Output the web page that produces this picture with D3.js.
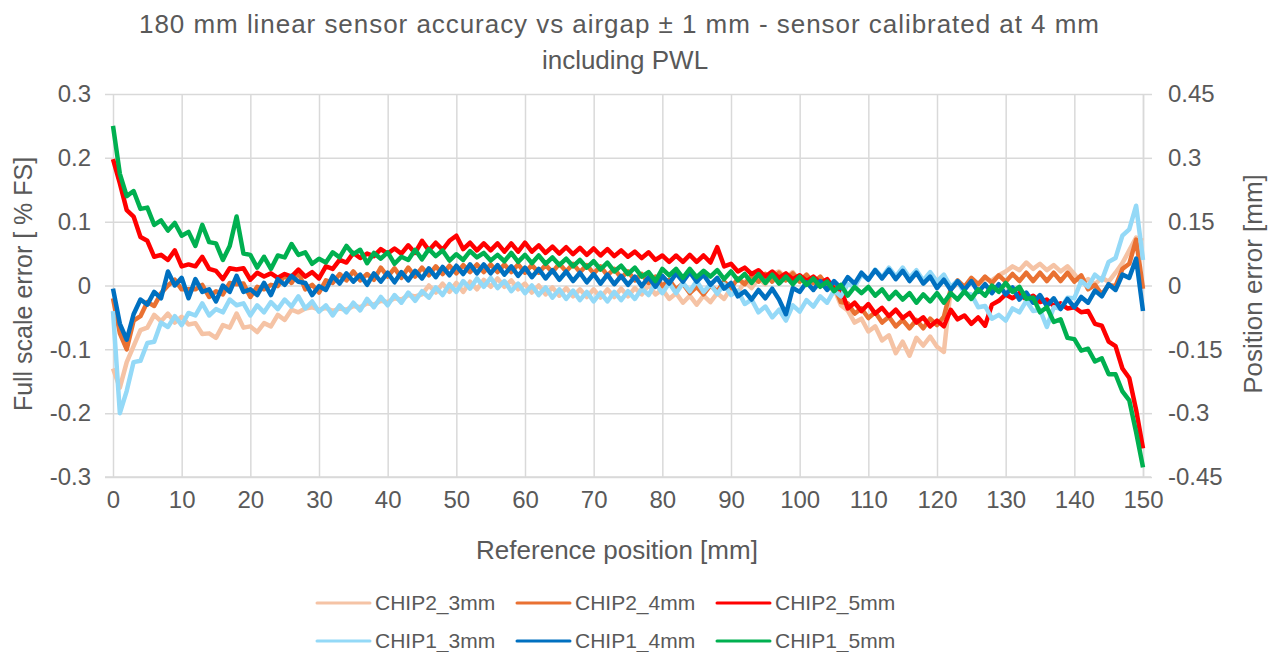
<!DOCTYPE html>
<html>
<head>
<meta charset="utf-8">
<script src="https://cdn.jsdelivr.net/npm/d3@7"></script>
<style>
  body { margin: 0; background: #fff; }
  text { font-family: "Liberation Sans", Arial, sans-serif; fill: #595959; }
</style>
</head>
<body>
<div id="container"></div>
<script>
// reference position in mm, one reading per mm
const positions = d3.range(0, 151);

// full scale error [% FS]
const chip2_3mm = [
  -0.130, -0.160, -0.120, -0.095, -0.070, -0.066, -0.046, -0.056, -0.044, -0.058,
  -0.049, -0.061, -0.059, -0.076, -0.075, -0.082, -0.062, -0.066, -0.044, -0.066,
  -0.064, -0.073, -0.059, -0.064, -0.046, -0.054, -0.038, -0.042, -0.036, -0.034,
  -0.038, -0.035, -0.040, -0.036, -0.038, -0.032, -0.034, -0.028, -0.030, -0.024,
  -0.026, -0.020, -0.022, -0.015, -0.017, -0.014, 0.000, -0.011, 0.003, -0.010,
  0.004, -0.010, 0.006, -0.006, 0.009, -0.002, 0.011, -0.002, 0.008, -0.006,
  0.003, -0.011, 0.000, -0.014, -0.003, -0.016, -0.004, -0.017, -0.006, -0.018,
  -0.006, -0.019, -0.006, -0.018, -0.005, -0.017, -0.004, -0.014, 0.001, -0.014,
  -0.006, -0.021, -0.012, -0.027, -0.016, -0.030, -0.016, -0.026, -0.012, -0.021,
  -0.004, -0.011, 0.006, -0.004, 0.011, 0.002, 0.018, 0.022, 0.012, 0.021,
  0.006, 0.016, 0.002, 0.011, -0.006, -0.004, -0.031, -0.039, -0.058, -0.052,
  -0.072, -0.064, -0.086, -0.078, -0.106, -0.088, -0.110, -0.082, -0.094, -0.080,
  -0.096, -0.104, -0.005, 0.003, -0.003, 0.006, 0.002, 0.010, 0.008, 0.016,
  0.022, 0.030, 0.024, 0.036, 0.026, 0.034, 0.024, 0.032, 0.022, 0.030,
  0.018, 0.004, 0.010, 0.002, 0.012, 0.006, 0.020, 0.035, 0.055, 0.075,
  0.070
];
const chip2_4mm = [
  -0.020, -0.075, -0.100, -0.055, -0.048, -0.026, -0.032, -0.012, 0.000, 0.009,
  -0.006, -0.006, -0.006, 0.001, -0.018, -0.009, -0.014, 0.004, 0.002, 0.003,
  -0.018, -0.002, -0.006, 0.001, -0.001, 0.016, 0.004, 0.021, -0.006, 0.001,
  -0.011, 0.008, 0.004, 0.018, 0.008, 0.022, 0.008, 0.018, 0.009, 0.028,
  0.014, 0.027, 0.012, 0.028, 0.014, 0.028, 0.016, 0.030, 0.018, 0.031,
  0.019, 0.032, 0.021, 0.033, 0.021, 0.033, 0.021, 0.033, 0.021, 0.033,
  0.020, 0.032, 0.020, 0.032, 0.021, 0.034, 0.022, 0.034, 0.021, 0.032,
  0.019, 0.030, 0.016, 0.026, 0.012, 0.022, 0.008, 0.018, 0.004, 0.014,
  -0.001, 0.009, -0.006, 0.003, -0.012, -0.002, -0.014, 0.000, -0.009, 0.006,
  -0.004, 0.011, 0.002, 0.016, 0.006, 0.018, 0.006, 0.020, 0.008, 0.019,
  0.006, 0.017, 0.004, 0.014, -0.001, 0.001, -0.026, -0.028, -0.044, -0.036,
  -0.051, -0.042, -0.058, -0.049, -0.064, -0.054, -0.067, -0.054, -0.067, -0.052,
  -0.062, -0.049, -0.006, 0.008, -0.002, 0.012, 0.002, 0.014, 0.004, 0.016,
  0.006, 0.018, 0.007, 0.020, 0.007, 0.020, 0.007, 0.020, 0.007, 0.020,
  0.006, 0.016, -0.006, 0.001, -0.014, 0.001, -0.001, 0.026, 0.034, 0.072,
  -0.005
];
const chip2_5mm = [
  0.198, 0.160, 0.118, 0.108, 0.076, 0.070, 0.045, 0.048, 0.040, 0.055,
  0.030, 0.033, 0.030, 0.045, 0.026, 0.023, 0.010, 0.027, 0.025, 0.027,
  0.009, 0.020, 0.014, 0.019, 0.012, 0.018, 0.014, 0.025, 0.014, 0.021,
  0.011, 0.030, 0.026, 0.040, 0.036, 0.051, 0.043, 0.050, 0.046, 0.057,
  0.050, 0.058, 0.050, 0.063, 0.051, 0.070, 0.055, 0.067, 0.056, 0.070,
  0.078, 0.057, 0.067, 0.055, 0.066, 0.055, 0.066, 0.053, 0.066, 0.053,
  0.067, 0.053, 0.063, 0.051, 0.061, 0.050, 0.060, 0.049, 0.059, 0.048,
  0.058, 0.047, 0.057, 0.046, 0.055, 0.045, 0.053, 0.043, 0.052, 0.040,
  0.047, 0.037, 0.047, 0.037, 0.048, 0.037, 0.047, 0.036, 0.060, 0.030,
  0.034, 0.022, 0.028, 0.018, 0.024, 0.014, 0.022, 0.012, 0.019, 0.010,
  0.016, 0.007, 0.014, 0.004, 0.010, -0.005, -0.005, -0.036, -0.027, -0.040,
  -0.029, -0.044, -0.035, -0.048, -0.038, -0.051, -0.043, -0.058, -0.050, -0.064,
  -0.055, -0.064, -0.038, -0.053, -0.047, -0.060, -0.050, -0.063, -0.030, -0.024,
  -0.014, -0.020, -0.012, -0.022, -0.016, -0.026, -0.022, -0.032, -0.028, -0.036,
  -0.034, -0.042, -0.040, -0.060, -0.063, -0.088, -0.095, -0.130, -0.145, -0.195,
  -0.255
];
const chip1_3mm = [
  -0.040, -0.200, -0.165, -0.120, -0.118, -0.090, -0.088, -0.058, -0.065, -0.048,
  -0.062, -0.043, -0.047, -0.028, -0.047, -0.037, -0.042, -0.022, -0.031, -0.028,
  -0.047, -0.031, -0.042, -0.026, -0.037, -0.022, -0.033, -0.017, -0.036, -0.025,
  -0.041, -0.031, -0.047, -0.031, -0.042, -0.027, -0.039, -0.021, -0.034, -0.018,
  -0.031, -0.015, -0.027, -0.011, -0.024, -0.009, -0.019, -0.003, -0.015, 0.002,
  -0.010, 0.007, -0.005, 0.011, -0.002, 0.012, -0.004, 0.007, -0.009, 0.003,
  -0.012, 0.000, -0.015, -0.003, -0.019, -0.006, -0.021, -0.008, -0.023, -0.010,
  -0.025, -0.011, -0.025, -0.010, -0.023, -0.009, -0.021, -0.005, -0.015, 0.004,
  -0.012, 0.004, -0.012, 0.004, -0.009, 0.007, -0.010, 0.002, -0.013, 0.002,
  -0.015, -0.008, -0.029, -0.022, -0.042, -0.033, -0.050, -0.038, -0.055, -0.031,
  -0.041, -0.023, -0.033, -0.017, -0.027, -0.008, -0.017, 0.002, -0.002, 0.017,
  0.009, 0.025, 0.013, 0.028, 0.014, 0.028, 0.012, 0.024, 0.008, 0.021,
  0.006, 0.017, -0.002, 0.007, -0.012, -0.014, -0.034, -0.032, -0.052, -0.046,
  -0.055, -0.036, -0.042, -0.024, -0.040, -0.038, -0.065, -0.034, -0.036, -0.019,
  -0.020, 0.007, -0.002, 0.017, 0.008, 0.037, 0.043, 0.078, 0.088, 0.125,
  0.040
];
const chip1_4mm = [
  -0.005, -0.060, -0.085, -0.045, -0.022, -0.030, -0.010, -0.020, 0.022, 0.000,
  0.012, -0.020, 0.010, -0.010, -0.006, -0.025, 0.000, -0.010, 0.015, -0.010,
  -0.006, -0.015, 0.004, -0.015, 0.010, 0.001, 0.015, 0.006, 0.004, -0.015,
  -0.001, -0.007, 0.015, 0.003, 0.019, 0.006, 0.017, 0.001, 0.019, 0.006,
  0.020, 0.005, 0.021, 0.008, 0.023, 0.011, 0.027, 0.013, 0.029, 0.016,
  0.031, 0.018, 0.033, 0.019, 0.033, 0.019, 0.032, 0.017, 0.030, 0.015,
  0.028, 0.013, 0.026, 0.011, 0.024, 0.009, 0.022, 0.007, 0.020, 0.005,
  0.018, 0.003, 0.017, 0.002, 0.015, 0.001, 0.014, -0.001, 0.013, -0.002,
  0.015, 0.003, 0.019, 0.006, 0.021, 0.006, 0.017, 0.001, 0.012, -0.005,
  0.004, -0.017, -0.009, -0.022, -0.007, -0.020, -0.005, -0.022, -0.045, -0.004,
  -0.010, 0.005, -0.007, 0.007, -0.007, 0.007, -0.004, 0.013, 0.003, 0.020,
  0.009, 0.024, 0.011, 0.025, 0.010, 0.023, 0.007, 0.020, 0.003, 0.014,
  -0.004, 0.009, -0.007, 0.007, -0.007, 0.007, -0.010, 0.002, -0.012, 0.002,
  -0.014, -0.003, -0.022, -0.011, -0.027, -0.015, -0.032, -0.020, -0.037, -0.021,
  -0.034, -0.018, -0.027, -0.008, -0.017, 0.002, -0.007, 0.017, 0.012, 0.042,
  -0.040
];
const chip1_5mm = [
  0.250, 0.175, 0.140, 0.148, 0.120, 0.122, 0.095, 0.102, 0.086, 0.098,
  0.078, 0.084, 0.062, 0.095, 0.068, 0.066, 0.040, 0.062, 0.108, 0.050,
  0.048, 0.028, 0.045, 0.026, 0.047, 0.044, 0.065, 0.048, 0.052, 0.034,
  0.042, 0.036, 0.052, 0.044, 0.062, 0.049, 0.056, 0.035, 0.051, 0.042,
  0.052, 0.034, 0.045, 0.040, 0.056, 0.041, 0.057, 0.046, 0.055, 0.039,
  0.049, 0.040, 0.054, 0.044, 0.051, 0.039, 0.048, 0.038, 0.051, 0.037,
  0.048, 0.035, 0.047, 0.034, 0.044, 0.032, 0.042, 0.030, 0.040, 0.028,
  0.038, 0.025, 0.036, 0.022, 0.031, 0.018, 0.028, 0.014, 0.021, 0.007,
  0.026, 0.016, 0.026, 0.012, 0.026, 0.013, 0.023, 0.014, 0.024, 0.010,
  0.022, 0.008, 0.018, 0.004, 0.018, 0.004, 0.017, 0.003, 0.014, 0.002,
  0.014, 0.001, 0.011, -0.002, 0.006, -0.009, 0.001, -0.016, -0.002, -0.012,
  -0.002, -0.016, -0.006, -0.021, -0.010, -0.022, -0.012, -0.027, -0.014, -0.025,
  -0.012, -0.027, -0.012, -0.022, -0.009, -0.021, -0.006, -0.016, 0.000, -0.010,
  0.004, -0.010, -0.002, -0.021, -0.019, -0.042, -0.034, -0.057, -0.053, -0.082,
  -0.084, -0.102, -0.099, -0.119, -0.114, -0.139, -0.139, -0.166, -0.180, -0.230,
  -0.285
];

const seriesNames = ["CHIP2_3mm", "CHIP2_4mm", "CHIP2_5mm", "CHIP1_3mm", "CHIP1_4mm", "CHIP1_5mm"];
const seriesColors = ["#f5c3a5", "#e97132", "#ff0000", "#94d9f7", "#0070c0", "#00b050"];
const seriesValues = [chip2_3mm, chip2_4mm, chip2_5mm, chip1_3mm, chip1_4mm, chip1_5mm];

const xTicks = d3.range(0, 151, 10);
const yTicks = [-0.3, -0.2, -0.1, 0, 0.1, 0.2, 0.3];
const y2Ticks = [-0.45, -0.3, -0.15, 0, 0.15, 0.3, 0.45];

const width = 1268;
const height = 652;
const plotLeft = 113, plotRight = 1143, plotTop = 94, plotBottom = 477;
const grid = "#d9d9d9";

const x = d3.scaleLinear().domain([0, 150]).range([plotLeft, plotRight]);
const y = d3.scaleLinear().domain([-0.3, 0.3]).range([plotBottom, plotTop]);
const y2 = d3.scaleLinear().domain([-0.45, 0.45]).range([plotBottom, plotTop]);
const fmt = d => String(+d.toFixed(2));

const svg = d3.select("#container")
  .append("svg")
  .attr("width", width)
  .attr("height", height);

// title
const title = svg.append("text")
  .attr("text-anchor", "middle")
  .style("font-size", "26px");
title.append("tspan").attr("x", 619).attr("y", 33)
  .attr("textLength", 960).attr("lengthAdjust", "spacing")
  .text("180 mm linear sensor accuracy vs airgap \u00b1 1 mm - sensor calibrated at 4 mm");
title.append("tspan").attr("x", 625).attr("y", 69).text("including PWL");

// left axis + horizontal gridlines
const yAxis = svg.append("g")
  .attr("transform", `translate(${plotLeft},0)`)
  .call(d3.axisLeft(y).tickValues(yTicks).tickSizeInner(-(plotRight - plotLeft)).tickSizeOuter(0).tickPadding(22).tickFormat(fmt));
yAxis.select(".domain").remove();
yAxis.selectAll(".tick line").attr("x1", -8).attr("stroke", grid).attr("stroke-width", 1.5);
yAxis.selectAll(".tick text").style("font-size", "24px").attr("fill", "#595959");

// bottom axis + vertical gridlines
const xAxis = svg.append("g")
  .attr("transform", `translate(0,${plotBottom})`)
  .call(d3.axisBottom(x).tickValues(xTicks).tickSizeInner(-(plotBottom - plotTop)).tickSizeOuter(0).tickPadding(14).tickFormat(d3.format("d")));
xAxis.select(".domain").attr("stroke", grid).attr("stroke-width", 1.5).attr("d", `M${plotLeft - 8},0H${plotRight + 8}`);
xAxis.selectAll(".tick line").attr("stroke", grid).attr("stroke-width", 1.5);
xAxis.selectAll(".tick text").style("font-size", "24px").attr("fill", "#595959");

// right axis
const y2Axis = svg.append("g")
  .attr("transform", `translate(${plotRight},0)`)
  .call(d3.axisRight(y2).tickValues(y2Ticks).tickSizeInner(9).tickSizeOuter(0).tickPadding(16).tickFormat(fmt));
y2Axis.select(".domain").attr("stroke", grid).attr("stroke-width", 1.5);
y2Axis.selectAll(".tick line").attr("stroke", grid).attr("stroke-width", 1.5);
y2Axis.selectAll(".tick text").style("font-size", "24px").attr("fill", "#595959");

// axis titles
svg.append("text")
  .attr("x", 617).attr("y", 559)
  .attr("text-anchor", "middle")
  .style("font-size", "26px")
  .text("Reference position [mm]");
svg.append("text")
  .attr("transform", "translate(32,284) rotate(-90)")
  .attr("text-anchor", "middle")
  .style("font-size", "25px")
  .text("Full scale error [ % FS]");
svg.append("text")
  .attr("transform", "translate(1262,284) rotate(-90)")
  .attr("text-anchor", "middle")
  .style("font-size", "26px")
  .text("Position error [mm]");

// series
const line = d3.line()
  .x((d, i) => x(positions[i]))
  .y(d => y(d));

const plot = svg.append("g");
seriesValues.forEach((vals, i) => {
  plot.append("path")
    .datum(vals)
    .attr("fill", "none")
    .attr("stroke", seriesColors[i])
    .attr("stroke-width", 4.5)
    .attr("stroke-linejoin", "round")
    .attr("d", line);
});

// legend
const legend = svg.append("g");
seriesNames.forEach((name, i) => {
  const col = i % 3, row = Math.floor(i / 3);
  const lx = 317 + col * 200;
  const ly = 603 + row * 38;
  legend.append("line")
    .attr("x1", lx).attr("x2", lx + 53)
    .attr("y1", ly).attr("y2", ly)
    .attr("stroke", seriesColors[i])
    .attr("stroke-width", 3)
    .attr("stroke-linecap", "round");
  legend.append("text")
    .attr("x", lx + 58).attr("y", ly)
    .attr("dy", "0.35em")
    .style("font-size", "21px")
    .text(name);
});
</script>
</body>
</html>
